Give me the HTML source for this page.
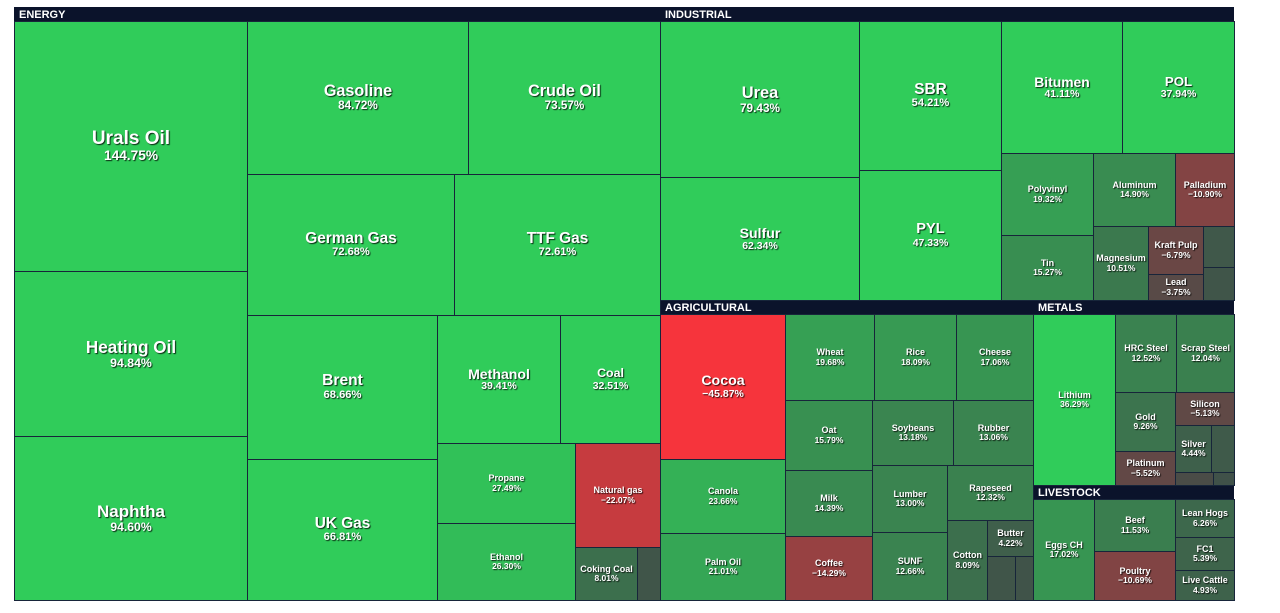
<!DOCTYPE html>
<html><head><meta charset="utf-8">
<style>
html,body{margin:0;padding:0;background:#fff;width:1280px;height:613px;overflow:hidden;font-family:"Liberation Sans",Arial,sans-serif}
#map{position:absolute;left:0;top:0;width:1280px;height:613px}
.hdr{position:absolute;background:#0b132b;color:#fff;font-weight:bold;font-size:11px;line-height:14px;padding-left:4px;box-sizing:border-box;height:14px;border:1px solid #0b132b}
.tile{position:absolute;box-sizing:border-box;border:1px solid #17253a;display:flex;flex-direction:column;align-items:center;justify-content:center;color:#fff;font-weight:bold;text-align:center;text-shadow:1px 1px 1px rgba(0,0,0,.8);overflow:hidden;line-height:1.05}
</style></head><body>
<div id="map"></div>
<script>
const groupNames=["ENERGY","INDUSTRIAL","AGRICULTURAL","METALS","LIVESTOCK"];
const groupBoxes=[[14,7,646],[660,7,574],[660,300,373],[1033,300,201],[1033,485,201]];
const tileNames=["Urals Oil","Heating Oil","Naphtha","Gasoline","Crude Oil","German Gas","TTF Gas","Brent","UK Gas","Methanol","Coal","Propane","Ethanol","Natural gas","Coking Coal","",
"Urea","Sulfur","SBR","PYL","Bitumen","POL","Polyvinyl","Tin","Aluminum","Palladium","Magnesium","Kraft Pulp","Lead","","",
"Cocoa","Canola","Palm Oil","Wheat","Rice","Cheese","Oat","Soybeans","Rubber","Milk","Coffee","Lumber","SUNF","Rapeseed","Cotton","Butter","","",
"Lithium","HRC Steel","Scrap Steel","Gold","Platinum","Silicon","Silver","","","",
"Eggs CH","Beef","Poultry","Lean Hogs","FC1","Live Cattle"];
const tileValues=[144.75,94.84,94.60,84.72,73.57,72.68,72.61,68.66,66.81,39.41,32.51,27.49,26.30,-22.07,8.01,2.0,
79.43,62.34,54.21,47.33,41.11,37.94,19.32,15.27,14.90,-10.90,10.51,-6.79,-3.75,2.5,2.0,
-45.87,23.66,21.01,19.68,18.09,17.06,15.79,13.18,13.06,14.39,-14.29,13.00,12.66,12.32,8.09,4.22,2.0,1.5,
36.29,12.52,12.04,9.26,-5.52,-5.13,4.44,3.0,-1.5,1.0,
17.02,11.53,-10.69,6.26,5.39,4.93];
// tile layout rectangles [x0,y0,x1,y1] (treemap geometry)
const tileRects=[[14,21,247,271],[14,271,247,436],[14,436,247,600],[247,21,468,174],[468,21,660,174],[247,174,454,315],[454,174,660,315],[247,315,437,459],[247,459,437,600],[437,315,560,443],[560,315,660,443],[437,443,575,523],[437,523,575,600],[575,443,660,547],[575,547,637,600],[637,547,660,600],
[660,21,859,177],[660,177,859,300],[859,21,1001,170],[859,170,1001,300],[1001,21,1122,153],[1122,21,1234,153],[1001,153,1093,235],[1001,235,1093,300],[1093,153,1175,226],[1175,153,1234,226],[1093,226,1148,300],[1148,226,1203,274],[1148,274,1203,300],[1203,226,1234,267],[1203,267,1234,300],
[660,314,785,459],[660,459,785,533],[660,533,785,600],[785,314,874,400],[874,314,956,400],[956,314,1033,400],[785,400,872,470],[872,400,953,465],[953,400,1033,465],[785,470,872,536],[785,536,872,600],[872,465,947,532],[872,532,947,600],[947,465,1033,520],[947,520,987,600],[987,520,1033,556],[987,556,1015,600],[1015,556,1033,600],
[1033,314,1115,485],[1115,314,1176,392],[1176,314,1234,392],[1115,392,1175,451],[1115,451,1175,485],[1175,392,1234,425],[1175,425,1211,472],[1211,425,1234,472],[1175,472,1213,485],[1213,472,1234,485],
[1033,499,1094,600],[1094,499,1175,551],[1094,551,1175,600],[1175,499,1234,537],[1175,537,1234,570],[1175,570,1234,600]];

function colorFor(v){
  const base=[65,77,72];
  const tgt=v>=0?[48,204,90]:[246,52,60];
  const t=Math.min(Math.abs(v)/30,1);
  const c=base.map((b,i)=>Math.round(b+(tgt[i]-b)*t));
  return `rgb(${c[0]},${c[1]},${c[2]})`;
}
function fmt(v){return (v<0?"\u2212":"")+Math.abs(v).toFixed(2)+"%";}
const map=document.getElementById('map');
groupNames.forEach((g,i)=>{
  const b=groupBoxes[i];
  const d=document.createElement('div');
  d.className='hdr';
  d.style.left=b[0]+'px';d.style.top=b[1]+'px';d.style.width=b[2]+'px';
  d.textContent=g;
  
  
  map.appendChild(d);
});
tileNames.forEach((n,i)=>{
  const r=tileRects[i],v=tileValues[i];
  const w=r[2]-r[0]+1,h=r[3]-r[1]+1;
  const d=document.createElement('div');
  d.className='tile';
  d.style.left=r[0]+'px';d.style.top=r[1]+'px';d.style.width=w+'px';d.style.height=h+'px';
  d.style.background=colorFor(v);
  
  
  if(n){
    const m=Math.min(w,h);
    const fs=m>=95?Math.min(19,12+(m-95)/14):9;
    const ps=m>=95?Math.max(10.5,fs*0.72):8.5;
    const a=document.createElement('div');a.textContent=n;a.style.fontSize=fs.toFixed(1)+'px';
    
    
    const p=document.createElement('div');p.textContent=fmt(v);p.style.fontSize=ps.toFixed(1)+'px';
    
    
    d.appendChild(a);d.appendChild(p);
  }
  map.appendChild(d);
});
</script>
</body></html>
